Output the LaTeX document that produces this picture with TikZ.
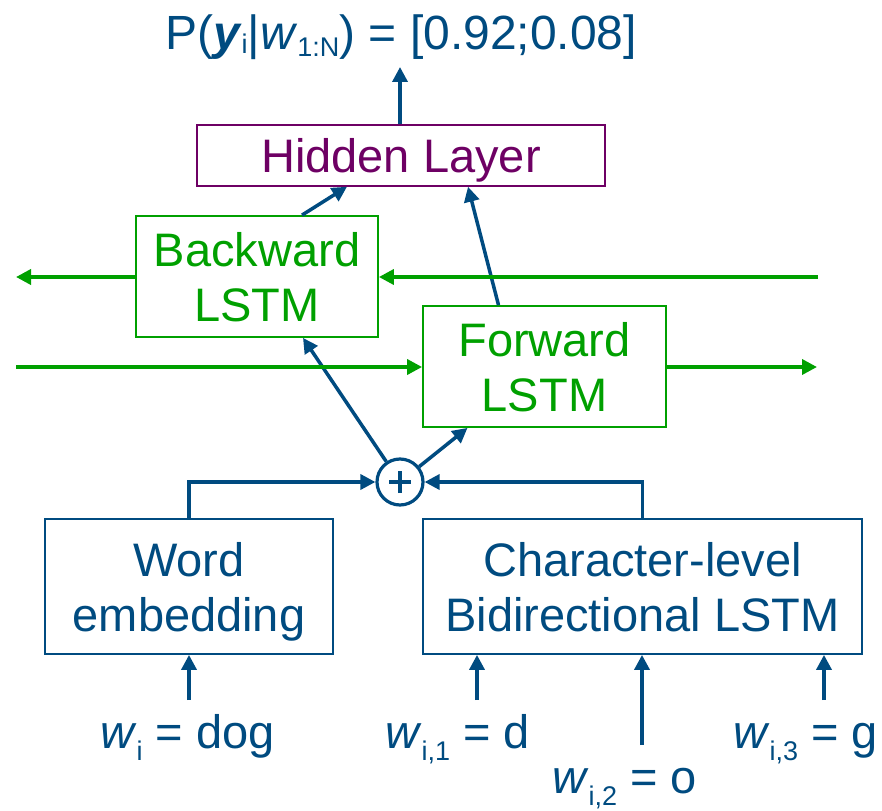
\documentclass[tikz,border=0pt]{standalone}
\usepackage{fontspec}
\setmainfont{Liberation Sans}
\usetikzlibrary{arrows.meta}

\definecolor{netblue}{RGB}{0,75,128}
\definecolor{lstmgreen}{RGB}{0,160,0}
\definecolor{hidpurple}{RGB}{110,0,100}

% lowered, smaller subscript text
\newcommand\lowsub[2]{\raisebox{-#1}{\fontsize{27}{27}\selectfont #2}}

\begin{document}
\begin{tikzpicture}[x=1pt,y=-1pt,
  lbl/.style={font=\fontsize{47}{55}\selectfont, inner sep=0pt, text=netblue},
  nnbox/.style={draw, line width=1.8pt, inner sep=0pt, align=center,
                text depth=0pt, font=\fontsize{47}{55}\selectfont},
  bluebox/.style={nnbox, draw=netblue, text=netblue},
  greenbox/.style={nnbox, draw=lstmgreen, text=lstmgreen},
  flow/.style={draw=netblue, line width=3.5pt, -{Triangle[length=15pt,width=15pt]}},
  rnn/.style={draw=lstmgreen, line width=3.6pt, -{Triangle[length=15pt,width=15pt]}},
]
\useasboundingbox (0,0) rectangle (882,810);

% boxes
\node[bluebox, minimum width=288pt, minimum height=135pt] (word) at (189,586.5) {Word\\embedding};
\node[bluebox, minimum width=439pt, minimum height=135pt] (char) at (642.5,586.5) {Character-level\\Bidirectional LSTM};
\node[greenbox, minimum width=242pt, minimum height=121pt] (bw) at (257,276.5) {Backward\\LSTM};
\node[greenbox, minimum width=243pt, minimum height=121pt] (fw) at (544.5,366.5) {Forward\\LSTM};
\node[nnbox, draw=hidpurple, text=hidpurple, line width=1.5pt,
      minimum width=408pt, minimum height=61pt] (hid) at (401,155.5) {Hidden Layer};

% concatenation node
\node[circle, draw=netblue, line width=3.2pt, minimum size=46pt, inner sep=0pt] (plus) at (400,482) {};
\draw[netblue, line width=4pt]
  ([xshift=-11pt]plus.center) -- ([xshift=11pt]plus.center)
  ([yshift=-11pt]plus.center) -- ([yshift=11pt]plus.center);

% output
\node[lbl, anchor=base, font=\fontsize{48}{55}\selectfont] (prob) at (401,50)
  {P(\textbf{\textit{y}}\lowsub{4pt}{i}|\textit{w}\lowsub{7pt}{1:N}) = [0.92;0.08]};
\coordinate (out) at (400,67);
\draw[flow] (out |- hid.north) -- (out);

% into the hidden layer
\draw[flow] ([xshift=45pt]bw.north) -- ([xshift=-54pt]hid.south);
\draw[flow] ([xshift=-46pt]fw.north) -- ([xshift=67pt]hid.south);

% from the concatenation to both LSTMs
\draw[flow] (plus) -- ([xshift=46pt]bw.south);
\draw[flow] (plus) -- ([xshift=-77pt]fw.south);

% into the concatenation
\draw[flow] (word.north) |- (plus.west);
\draw[flow] (char.north) |- (plus.east);

% recurrent connections
\coordinate (bwin) at (818,277);
\coordinate (bwout) at (16,277);
\coordinate (fwin) at (16,367);
\coordinate (fwout) at (817,367);
\draw[rnn] (bwin) -- (bwin -| bw.east);
\draw[rnn] (bwout -| bw.west) -- (bwout);
\draw[rnn] (fwin) -- (fwin -| fw.west);
\draw[rnn] (fwout -| fw.east) -- (fwout);

% inputs
\node[lbl, anchor=base west] (wi) at (100,748) {\textit{w}\lowsub{12pt}{i} = dog};
\node[lbl, anchor=base west] (wi1) at (385,748) {\textit{w}\lowsub{12pt}{i,1} = d};
\node[lbl, anchor=base west] (wi2) at (552,793) {\textit{w}\lowsub{12pt}{i,2} = o};
\node[lbl, anchor=base west] (wi3) at (733,748) {\textit{w}\lowsub{12pt}{i,3} = g};

\coordinate (in0) at (189,700);
\coordinate (in1) at (477,700);
\coordinate (in2) at (642,745);
\coordinate (in3) at (824,700);
\draw[flow] (in0) -- (in0 |- word.south);
\draw[flow] (in1) -- (in1 |- char.south);
\draw[flow] (in2) -- (in2 |- char.south);
\draw[flow] (in3) -- (in3 |- char.south);
\end{tikzpicture}
\end{document}
